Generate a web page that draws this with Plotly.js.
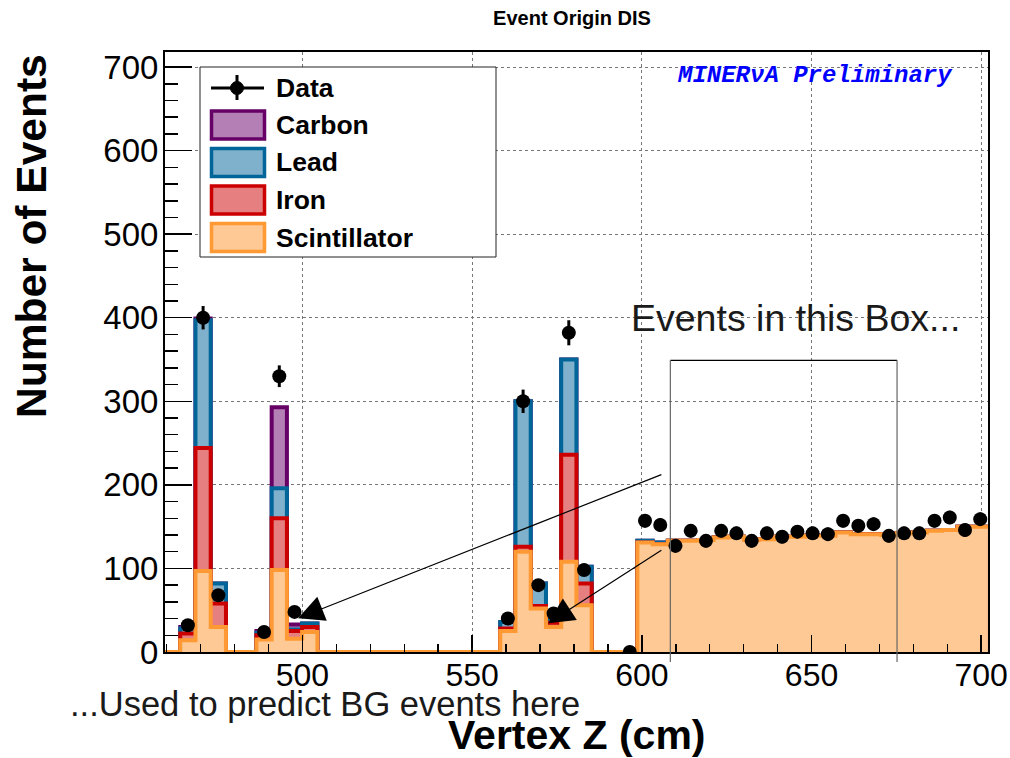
<!DOCTYPE html>
<html><head><meta charset="utf-8">
<script src="https://cdn.plot.ly/plotly-3.0.1.min.js"></script>
<style>html,body{margin:0;padding:0;background:#fff}#chart{width:1010px;height:758px}</style>
</head><body><div id="chart"></div>
<script>
// ---- data ----
const binEdges = [459.50,463.99,468.48,472.97,477.46,481.95,486.44,490.93,495.42,499.91,
  504.40,508.89,513.38,517.87,522.36,526.85,531.34,535.83,540.32,544.81,
  549.30,553.79,558.28,562.77,567.26,571.75,576.24,580.73,585.22,589.71,
  594.20,598.69,603.18,607.67,612.16,616.65,621.14,625.63,630.12,634.61,
  639.10,643.59,648.08,652.57,657.06,661.55,666.04,670.53,675.02,679.51,
  684.00,688.49,692.98,697.47,701.96];
const scintillator = [0,14,97,30,0,0,15,98,16,24,
  0,0,0,0,0,0,0,0,0,0,0,0,
  25,120,52,30,108,56,0,0,0,
  131,129,133,133,134,137,138,134,135,138,138,139,139,143,141,141,140,142,143,145,146,150,150];
const iron = [0,8,147,28,0,0,5,62,9,6,
  0,0,0,0,0,0,0,0,0,0,0,0,
  3,6,3,5,128,26,0,0,0,
  0,0,0,0,0,0,0,0,0,0,0,0,0,0,0,0,0,0,0,0,0,0,0];
const lead = [0,6,153,24,0,0,3,36,2,4,
  0,0,0,0,0,0,0,0,0,0,0,0,
  8,174,27,3,114,20,0,0,0,
  2,2,0,0,0,0,0,0,0,0,0,0,0,0,0,0,0,0,0,0,0,0,0];
const carbon = [0,2,2,0,0,0,2,97,6,0,
  0,0,0,0,0,0,0,0,0,0,0,0,
  0,0,0,0,0,0,0,0,0,
  0,0,0,0,0,0,0,0,0,0,0,0,0,0,0,0,0,0,0,0,0,0,0];
const dataCounts = [null,32,400,68,null,null,24,330,48,null,
  null,null,null,null,null,null,null,null,null,null,null,null,
  40,300,80,46,382,98,null,null,0,
  157,152,127,145,133,145,142,133,142,138,144,142,141,157,151,153,139,142,142,157,161,146,159];
const dataErrors = [0,4,14,6,0,0,3.5,13,5,0,
  0,0,0,0,0,0,0,0,0,0,0,0,
  4.5,14,6,5,15,7,0,0,0,
  8,8,8,8,8,8,8,8,8,8,8,8,8,8,8,8,8,8,8,8,8,8,8];
const xTickVals = [500,550,600,650,700];
const yTickVals = [0,100,200,300,400,500,600,700];
const seriesNames = ['Carbon','Lead','Iron','Scintillator'];

// ---- styles ----
const FONT = 'Liberation Sans, Arial, Helvetica, sans-serif';
const XR = [459.5, 702], YR = [0, 718];
const lineCol = {Carbon:'#660066', Lead:'#006699', Iron:'#cc0000', Scintillator:'#ff9933'};
const fillCol = {Carbon:'#b47fb4', Lead:'#7fb1cc', Iron:'#e68080', Scintillator:'#fec995'};

// cumulative stacks (bottom: scintillator, iron, lead, carbon)
const cumS = scintillator.slice();
const cumI = cumS.map((v,i)=>v+iron[i]);
const cumL = cumI.map((v,i)=>v+lead[i]);
const cumC = cumL.map((v,i)=>v+carbon[i]);
const stepY = arr => arr.concat([arr[arr.length-1]]);
const centers = binEdges.slice(0,-1).map((e,i)=>(e+binEdges[i+1])/2);

function stepTrace(cum, name){
  return {x: binEdges, y: stepY(cum), type:'scatter', mode:'lines',
    line:{shape:'hv', color:lineCol[name], width:4}, fill:'tozeroy',
    fillcolor:fillCol[name], hoverinfo:'skip', name:name};
}
const traces = [
  stepTrace(cumC,'Carbon'), stepTrace(cumL,'Lead'),
  stepTrace(cumI,'Iron'), stepTrace(cumS,'Scintillator'),
  {x: centers, y: dataCounts, type:'scatter', mode:'markers', name:'Data',
   marker:{color:'black', size:14},
   error_y:{type:'data', array:dataErrors, visible:true, color:'black', thickness:3, width:0}}
];

// pixel -> paper helpers for decorations
const L=165, R=988, T=52, B=652;
const PX = p => (p-L)/(R-L);
const PY = p => (B-p)/(B-T);
const ZX = z => (z-XR[0])/(XR[1]-XR[0]);
const VY = v => (v-YR[0])/(YR[1]-YR[0]);

const shapes = [];
const annotations = [];
// legend box
shapes.push({type:'rect', xref:'paper', yref:'paper', x0:PX(200), x1:PX(496), y0:PY(257), y1:PY(67),
  line:{color:'#222', width:1}, fillcolor:'white', layer:'above'});
// data legend entry
shapes.push({type:'line', xref:'paper', yref:'paper', x0:PX(211), x1:PX(264), y0:PY(88), y1:PY(88),
  line:{color:'black', width:3}, layer:'above'});
shapes.push({type:'line', xref:'paper', yref:'paper', x0:PX(237), x1:PX(237), y0:PY(75), y1:PY(100),
  line:{color:'black', width:3}, layer:'above'});
shapes.push({type:'circle', xref:'paper', yref:'paper', x0:PX(230.5), x1:PX(243.5), y0:PY(94.5), y1:PY(81.5),
  line:{color:'black', width:1}, fillcolor:'black', layer:'above'});
annotations.push({xref:'paper', yref:'paper', x:PX(274), y:PY(88), text:'<b>Data</b>', showarrow:false,
  xanchor:'left', yanchor:'middle', font:{family:FONT, size:26.5, color:'black'}});
const boxTop = [110, 147.5, 185, 222.5];
const textY = [125, 162, 200, 238];
seriesNames.forEach((n,i)=>{
  shapes.push({type:'rect', xref:'paper', yref:'paper', x0:PX(211.5), x1:PX(264.5), y0:PY(boxTop[i]+29), y1:PY(boxTop[i]+1),
    line:{color:lineCol[n], width:3.5}, fillcolor:fillCol[n], layer:'above'});
  annotations.push({xref:'paper', yref:'paper', x:PX(274), y:PY(textY[i]), text:'<b>'+n+'</b>', showarrow:false,
    xanchor:'left', yanchor:'middle', font:{family:FONT, size:26.5, color:'black'}});
});
// the box
const boxZ0 = 608.4, boxZ1 = 675.2, boxV = 349;
shapes.push({type:'line', xref:'paper', yref:'paper', x0:ZX(boxZ0), x1:ZX(boxZ1), y0:VY(boxV), y1:VY(boxV),
  line:{color:'black', width:1.2}, layer:'above'});
shapes.push({type:'line', xref:'paper', yref:'paper', x0:ZX(boxZ0), x1:ZX(boxZ0), y0:PY(662), y1:VY(boxV),
  line:{color:'#666', width:1.2}, layer:'above'});
shapes.push({type:'line', xref:'paper', yref:'paper', x0:ZX(boxZ1), x1:ZX(boxZ1), y0:PY(662), y1:VY(boxV),
  line:{color:'#666', width:1.2}, layer:'above'});

// texts
annotations.push({xref:'paper', yref:'paper', x:PX(795), y:PY(318), text:'Events in this Box...', showarrow:false,
  xanchor:'center', yanchor:'middle', font:{family:FONT, size:37.5, color:'#1a1a1a'}});
annotations.push({xref:'paper', yref:'paper', x:PX(68), y:PY(704), text:'...Used to predict BG events here', showarrow:false,
  xanchor:'left', yanchor:'middle', font:{family:FONT, size:34.5, color:'#1a1a1a'}});
annotations.push({xref:'paper', yref:'paper', x:PX(815), y:PY(75), text:'<b><i>MINERνA Preliminary</i></b>', showarrow:false,
  xanchor:'center', yanchor:'middle', font:{family:'Liberation Mono, Courier New, monospace', size:24, color:'#0000ff'}});
annotations.push({xref:'paper', yref:'paper', x:PX(708), y:PY(735), text:'<b>Vertex Z (cm)</b>', showarrow:false,
  xanchor:'right', yanchor:'middle', font:{family:FONT, size:41, color:'black'}});
annotations.push({xref:'paper', yref:'paper', x:PX(31), y:PY(236), text:'<b>Number of Events</b>', showarrow:false,
  textangle:-90, xanchor:'center', yanchor:'middle', font:{family:FONT, size:42.5, color:'black'}});
// arrows
annotations.push({x:498.7, y:40.4, ax:606.2, ay:213, xref:'x', yref:'y', axref:'x', ayref:'y', text:'',
  showarrow:true, arrowhead:2, arrowsize:4.3, arrowwidth:1.2, arrowcolor:'black', standoff:0});
annotations.push({x:572.4, y:34.4, ax:606.2, ay:123, xref:'x', yref:'y', axref:'x', ayref:'y', text:'',
  showarrow:true, arrowhead:2, arrowsize:4.3, arrowwidth:1.2, arrowcolor:'black', standoff:0});

const layout = {
  width:1010, height:758,
  margin:{l:L, r:1010-R, t:T, b:758-B},
  paper_bgcolor:'white', plot_bgcolor:'white',
  showlegend:false,
  title:{text:'<b>Event Origin DIS</b>', font:{family:FONT, size:20, color:'black'},
    x:572/1010, xanchor:'center', y:1-18/758, yanchor:'middle', xref:'container', yref:'container'},
  xaxis:{range:XR, tickvals:xTickVals, ticktext:xTickVals.map(String), ticks:'inside', ticklen:17, tickwidth:1.5,
    tickcolor:'black', showline:true, linecolor:'black', linewidth:2, mirror:true, zeroline:false,
    showgrid:true, gridcolor:'#777', griddash:'dot', gridwidth:1, ticklabelstandoff:-6,
    tickfont:{family:FONT, size:32, color:'black'},
    minor:{dtick:10, tick0:0, ticks:'inside', ticklen:8, tickwidth:1.5, tickcolor:'black', showgrid:false}},
  yaxis:{range:YR, tickvals:yTickVals, ticktext:yTickVals.map(String), ticks:'inside', ticklen:27, tickwidth:1.5,
    tickcolor:'black', showline:true, linecolor:'black', linewidth:2, mirror:true, zeroline:false,
    showgrid:true, gridcolor:'#777', griddash:'dot', gridwidth:1, ticklabelstandoff:-2,
    tickfont:{family:FONT, size:33, color:'black'},
    minor:{dtick:20, tick0:0, ticks:'inside', ticklen:13, tickwidth:1.5, tickcolor:'black', showgrid:false}},
  shapes:shapes, annotations:annotations
};
Plotly.newPlot('chart', traces, layout, {displayModeBar:false, staticPlot:true});
</script></body></html>
